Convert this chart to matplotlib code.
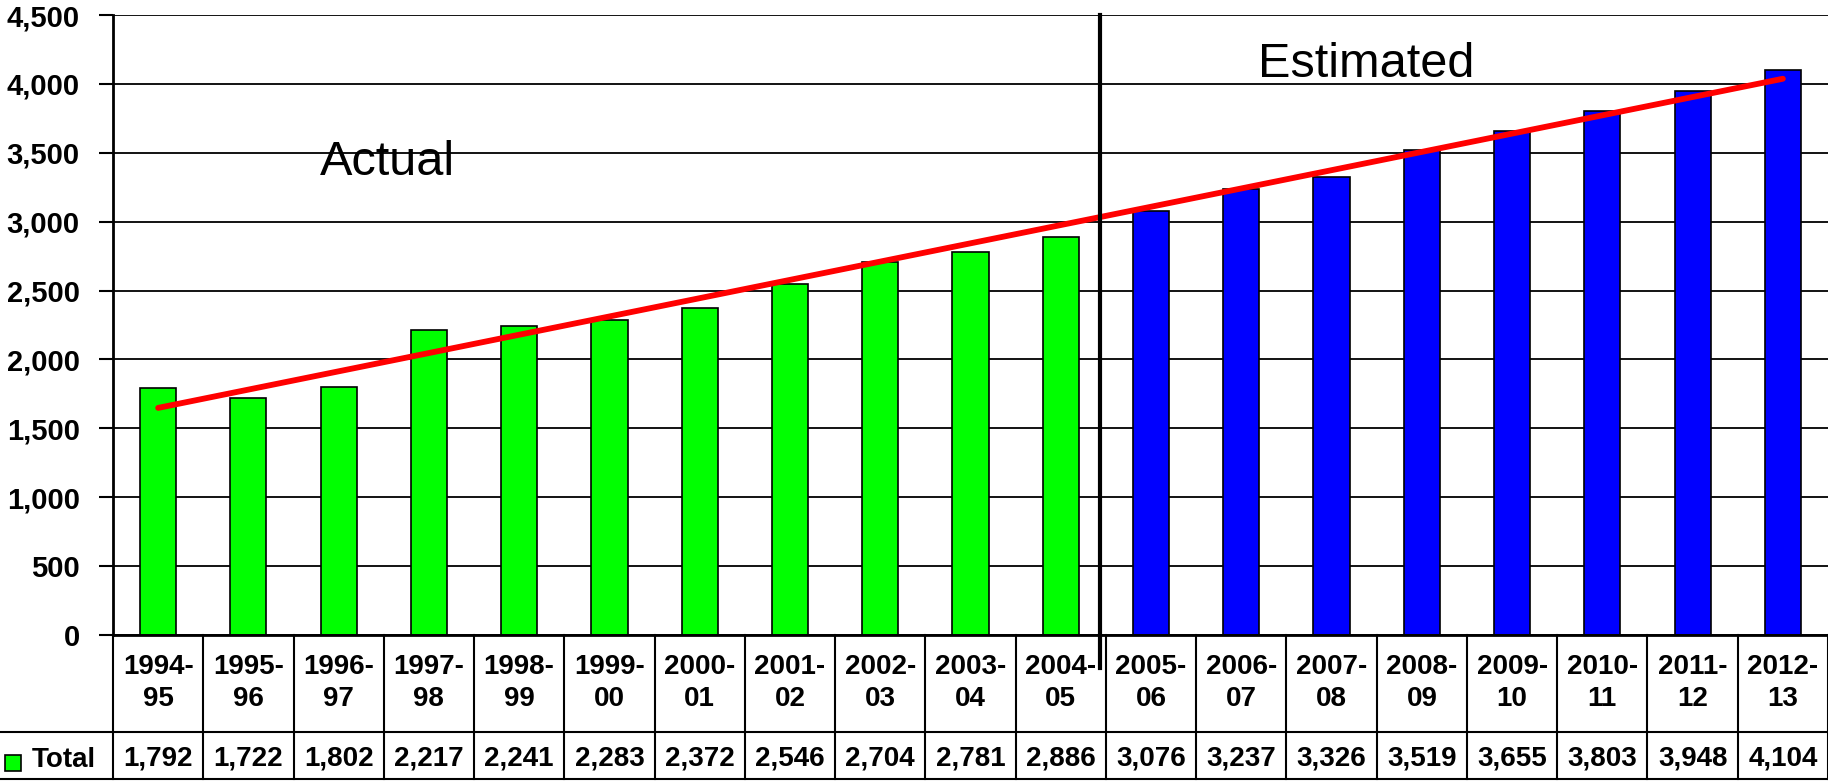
import numpy as np
import matplotlib
matplotlib.use("Agg")
import matplotlib.pyplot as plt
import matplotlib.transforms as mtransforms
from matplotlib.patches import Rectangle

categories = ["1994-95", "1995-96", "1996-97", "1997-98", "1998-99", "1999-00",
              "2000-01", "2001-02", "2002-03", "2003-04", "2004-05", "2005-06",
              "2006-07", "2007-08", "2008-09", "2009-10", "2010-11", "2011-12",
              "2012-13"]
totals = [1792, 1722, 1802, 2217, 2241, 2283, 2372, 2546, 2704, 2781, 2886,
          3076, 3237, 3326, 3519, 3655, 3803, 3948, 4104]
n_actual = 11
series_name = "Total"
y_ticks = [0, 500, 1000, 1500, 2000, 2500, 3000, 3500, 4000, 4500]

plt.rcParams['font.family'] = ['Liberation Sans', 'DejaVu Sans']

W, H = 1828, 781
fig = plt.figure(figsize=(W / 100, H / 100), dpi=100)
ax_left, ax_right, ax_top, ax_bot = 113, 1828, 15, 635
ax = fig.add_axes([ax_left / W, (H - ax_bot) / H, (ax_right - ax_left) / W, (ax_bot - ax_top) / H])

x = np.arange(len(categories))
colors = ['#00FF00' if i < n_actual else '#0000FF' for i in range(len(categories))]
ax.bar(x, totals, width=0.4, color=colors, edgecolor='black', linewidth=1.2, zorder=3)

# linear trend line
coef = np.polyfit(x, totals, 1)
trend = np.polyval(coef, x)
ax.plot([x[0], x[-1]], [trend[0], trend[-1]], color='#FF0000', lw=4.2, solid_capstyle='round', zorder=4)

ax.set_xlim(-0.5, len(categories) - 0.5)
ax.set_ylim(0, 4500)
ax.set_yticks(y_ticks)
ax.set_yticklabels([f"{v:,}" for v in y_ticks], fontsize=21, fontweight='bold')
ax.tick_params(axis='y', length=10, width=1.5, pad=14)
ax.set_xticks([])
ax.yaxis.grid(True, color='black', lw=1.3, zorder=0)
ax.set_axisbelow(True)
for s in ['top', 'right']:
    ax.spines[s].set_visible(False)
ax.spines['left'].set_linewidth(2)
ax.spines['bottom'].set_linewidth(2)
ax.spines['bottom'].set_zorder(5)

# divider between actual and estimated
trans = mtransforms.blended_transform_factory(ax.transData, ax.transAxes)
div_x = n_actual - 0.5 - 0.065
ax.plot([div_x, div_x], [1.0, -0.053], transform=trans, color='black', lw=3, clip_on=False, zorder=6)

ax.text(2.54, 3430, "Actual", fontsize=35, ha='center', va='center', zorder=6)
ax.text(13.38, 4140, "Estimated", fontsize=35, ha='center', va='center', zorder=6)

# data table
def ay(py):
    return (ax_bot - py) / (ax_bot - ax_top)

row2_bot = ay(779)
for i in range(len(categories) + 1):
    xb = i - 0.5
    ax.plot([xb, xb], [0, row2_bot], transform=trans, color='black', lw=1.5, clip_on=False)
fig.add_artist(plt.Line2D([0, 1], [(H - 732) / H, (H - 732) / H], color='black', lw=1.5))
fig.add_artist(plt.Line2D([0, 1], [(H - 779) / H, (H - 779) / H], color='black', lw=1.5))

for i, c in enumerate(categories):
    a, b = c.split('-')
    ax.text(i, ay(683), f"{a}-\n{b}", transform=trans, ha='center', va='center',
            fontsize=20, fontweight='bold', linespacing=1.35, clip_on=False)
    ax.text(i, ay(759), f"{totals[i]:,}", transform=trans, ha='center', va='center',
            fontsize=20, fontweight='bold', clip_on=False)

fig.add_artist(Rectangle((5 / W, (H - 771) / H), 16 / W, 16 / H, facecolor='#00FF00',
                         edgecolor='black', lw=1.2, transform=fig.transFigure))
fig.text(32 / W, (H - 760) / H, series_name, fontsize=20, fontweight='bold', ha='left', va='center')

fig.savefig("out.png", dpi=100, facecolor='white')
